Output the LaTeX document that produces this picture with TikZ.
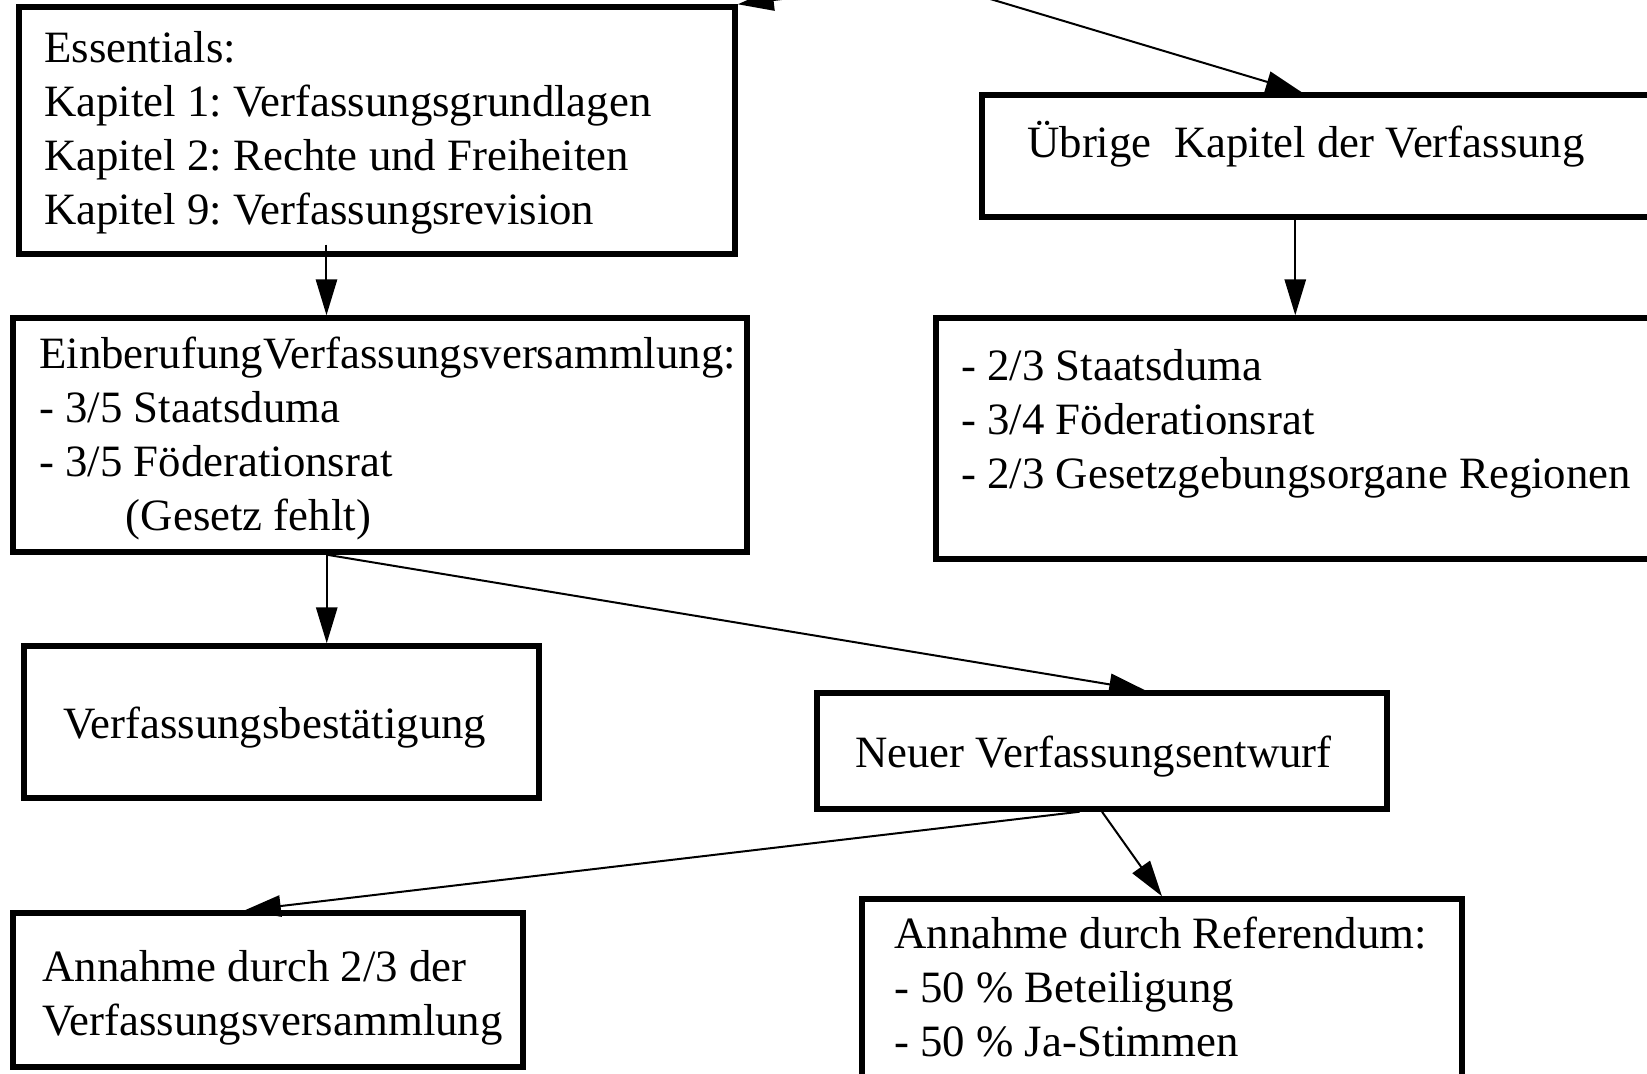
\documentclass[tikz,border=0pt]{standalone}
\usepackage{fontspec}
\setmainfont{Liberation Serif}
\usetikzlibrary{arrows.meta,fit,calc}
\frenchspacing

\begin{document}
\begin{tikzpicture}[x=0.75pt,y=0.75pt,yscale=-1,xscale=1,
    box/.style={draw, line width=4.1pt, inner sep=0pt},
    txt/.style={anchor=north west, inner sep=0pt, align=left, font=\fontsize{33.6}{40.5}\selectfont},
    arr/.style={line width=1.5pt, -{Triangle[length=27pt,width=16pt]}}]
    \useasboundingbox (0,0) rectangle (1647,1074);

    %Shape: Rectangles
    \node [box, fit={(19,7) (735,254)}] (ess) {};
    \node [box, fit={(982,95) (1665,217)}] (ueb) {};
    \node [box, fit={(13,318) (747,552)}] (ein) {};
    \node [box, fit={(936,318) (1665,559)}] (reg) {};
    \node [box, fit={(24,646) (539,798)}] (best) {};
    \node [box, fit={(817,693) (1387,809)}] (neu) {};
    \node [box, fit={(13,913) (523,1067)}] (ann) {};
    \node [box, fit={(862,899) (1462,1095)}] (ref) {};

    % Text Node
    \node [txt] (essT) at (44,24) {\strut Essentials:\\Kapitel 1: Verfassungsgrundlagen\\Kapitel 2: Rechte und Freiheiten\\Kapitel 9: Verfassungsrevision};
    % Text Node
    \node [txt] (uebT) at (1027,119) {\strut Übrige~~Kapitel der Verfassung};
    % Text Node
    \node [txt] (einT) at (39,330) {\strut EinberufungVerfassungsversammlung:\\- 3/5 Staatsduma\\- 3/5 Föderationsrat\\\hspace*{65pt}(Gesetz fehlt)};
    % Text Node
    \node [txt] (regT) at (961,342) {\strut - 2/3 Staatsduma\\- 3/4 Föderationsrat\\- 2/3 Gesetzgebungsorgane Regionen};
    % Text Node
    \node [txt] (bestT) at (63,700) {\strut Verfassungsbestätigung};
    % Text Node
    \node [txt] (neuT) at (855,729) {\strut Neuer Verfassungsentwurf};
    % Text Node
    \node [txt] (annT) at (42,943) {\strut Annahme durch 2/3 der\\Verfassungsversammlung};
    % Text Node
    \node [txt] (refT) at (894,910) {\strut Annahme durch Referendum:\\- 50 \% Beteiligung\\- 50 \% Ja-Stimmen};

    %Straight Lines from above the picture
    \coordinate (src1) at (1000,-27);
    \coordinate (src2) at (860,-40);
    \draw [arr] (src1) -- (ess.north east);
    \draw [arr] (src2) -- ($(ueb.north west)!0.4685!(ueb.north east)$);
    %Straight Lines
    \coordinate (essOut) at ($(ess.south west)!0.43!(ess.south east)$);
    \draw [arr] ([yshift=-9pt]essOut) -- (ein.north -| essOut);
    \coordinate (uebOut) at ($(ueb.south west)!0.459!(ueb.south east)$);
    \draw [arr] (uebOut) -- (reg.north -| uebOut);
    \coordinate (einOut) at ($(ein.south west)!0.428!(ein.south east)$);
    \draw [arr] (einOut) -- (best.north -| einOut);
    \draw [arr] (einOut) -- ($(neu.north west)!0.575!(neu.north east)$);
    \draw [arr] ($(neu.south west)!0.461!(neu.south east)$) -- ($(ann.north west)!0.455!(ann.north east)$);
    \draw [arr] (neu.south) -- (ref.north);

\end{tikzpicture}
\end{document}
